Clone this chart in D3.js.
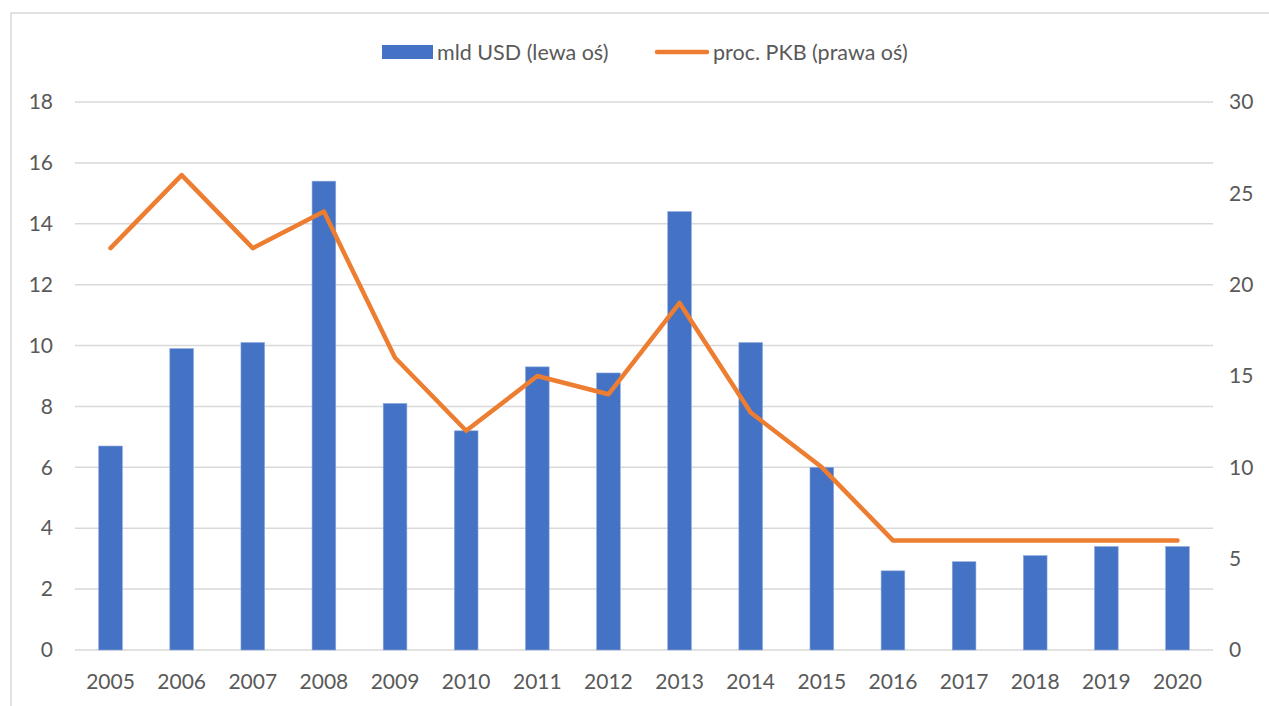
<!DOCTYPE html>
<html lang="pl">
<head>
  <meta charset="UTF-8">
  <title>mld USD / proc. PKB</title>
  <style>
    html, body { margin: 0; padding: 0; background: #fff; }
    text { font-family: Lato, "Open Sans", sans-serif; fill: #595959; }
  </style>
</head>
<body>
  <script src="https://d3js.org/d3.v7.min.js"></script>
  <script>
    const years = ['2005', '2006', '2007', '2008', '2009', '2010', '2011', '2012',
      '2013', '2014', '2015', '2016', '2017', '2018', '2019', '2020']
    const usd = [6.7, 9.9, 10.1, 15.4, 8.1, 7.2, 9.3, 9.1, 14.4, 10.1, 6.0, 2.6, 2.9, 3.1, 3.4, 3.4]
    const gdp = [22, 26, 22, 24, 16, 12, 15, 14, 19, 13, 10, 6, 6, 6, 6, 6]
    const leftTicks = [0, 2, 4, 6, 8, 10, 12, 14, 16, 18]
    const rightTicks = [0, 5, 10, 15, 20, 25, 30]
    const seriesNames = ['mld USD (lewa oś)', 'proc. PKB (prawa oś)']

    const width = 1269
    const height = 706
    const margin = { top: 102, right: 56, bottom: 56, left: 75 }

    const svg = d3.select('body')
      .append('svg')
      .attr('width', width)
      .attr('height', height)

    // chart frame
    svg.append('rect')
      .attr('x', 11)
      .attr('y', 13)
      .attr('width', width)
      .attr('height', height)
      .attr('fill', 'none')
      .attr('stroke', '#d9d9d9')
      .attr('stroke-width', 1.5)

    const x = d3.scaleBand()
      .domain(years)
      .range([margin.left, width - margin.right])
      .paddingInner(0.667)
      .paddingOuter(0.333)

    const yL = d3.scaleLinear().domain([0, 18]).range([height - margin.bottom, margin.top])
    const yR = d3.scaleLinear().domain([0, 30]).range([height - margin.bottom, margin.top])

    // gridlines
    svg.append('g')
      .selectAll('line')
      .data(leftTicks)
      .join('line')
      .attr('x1', margin.left)
      .attr('x2', width - margin.right)
      .attr('y1', d => yL(d))
      .attr('y2', d => yL(d))
      .attr('stroke', '#d9d9d9')
      .attr('stroke-width', 1.5)

    const axisL = svg.append('g')
      .attr('transform', `translate(${margin.left - 22},0)`)
      .call(d3.axisLeft(yL).tickValues(leftTicks).tickSize(0).tickPadding(0))
    const axisR = svg.append('g')
      .attr('transform', `translate(${width - margin.right + 16},0)`)
      .call(d3.axisRight(yR).tickValues(rightTicks).tickSize(0).tickPadding(0))
    const axisB = svg.append('g')
      .attr('transform', `translate(0,${height - margin.bottom + 32})`)
      .call(d3.axisBottom(x).tickSize(0).tickPadding(0))

    for (const g of [axisL, axisR, axisB]) {
      g.select('.domain').remove()
      g.selectAll('text')
        .style('font-family', 'Lato, "Open Sans", sans-serif')
        .style('font-size', '21px')
        .attr('fill', '#595959')
    }
    axisB.selectAll('text').attr('dy', '0.32em')

    // bars
    svg.append('g')
      .selectAll('rect')
      .data(usd)
      .join('rect')
      .attr('x', (d, i) => x(years[i]))
      .attr('width', x.bandwidth())
      .attr('y', d => yL(d))
      .attr('height', d => yL(0) - yL(d))
      .attr('fill', '#4472c4')
      .attr('stroke', '#8faadc')
      .attr('stroke-width', 0.6)

    // line
    const line = d3.line()
      .x((d, i) => x(years[i]) + x.bandwidth() / 2)
      .y(d => yR(d))
    svg.append('path')
      .datum(gdp)
      .attr('d', line)
      .attr('fill', 'none')
      .attr('stroke', '#ed7d31')
      .attr('stroke-width', 4.5)
      .attr('stroke-linejoin', 'round')
      .attr('stroke-linecap', 'round')

    // legend
    const legend = svg.append('g').attr('transform', 'translate(0,52)')
    legend.append('rect')
      .attr('x', 382)
      .attr('y', -7)
      .attr('width', 51)
      .attr('height', 14)
      .attr('fill', '#4472c4')
    legend.append('text')
      .attr('x', 437)
      .attr('dy', '0.35em')
      .style('font-size', '21.5px')
      .text(seriesNames[0])
    legend.append('line')
      .attr('x1', 657)
      .attr('x2', 707)
      .attr('stroke', '#ed7d31')
      .attr('stroke-width', 4.5)
      .attr('stroke-linecap', 'round')
    legend.append('text')
      .attr('x', 713)
      .attr('dy', '0.35em')
      .style('font-size', '21.5px')
      .text(seriesNames[1])
  </script>
</body>
</html>
